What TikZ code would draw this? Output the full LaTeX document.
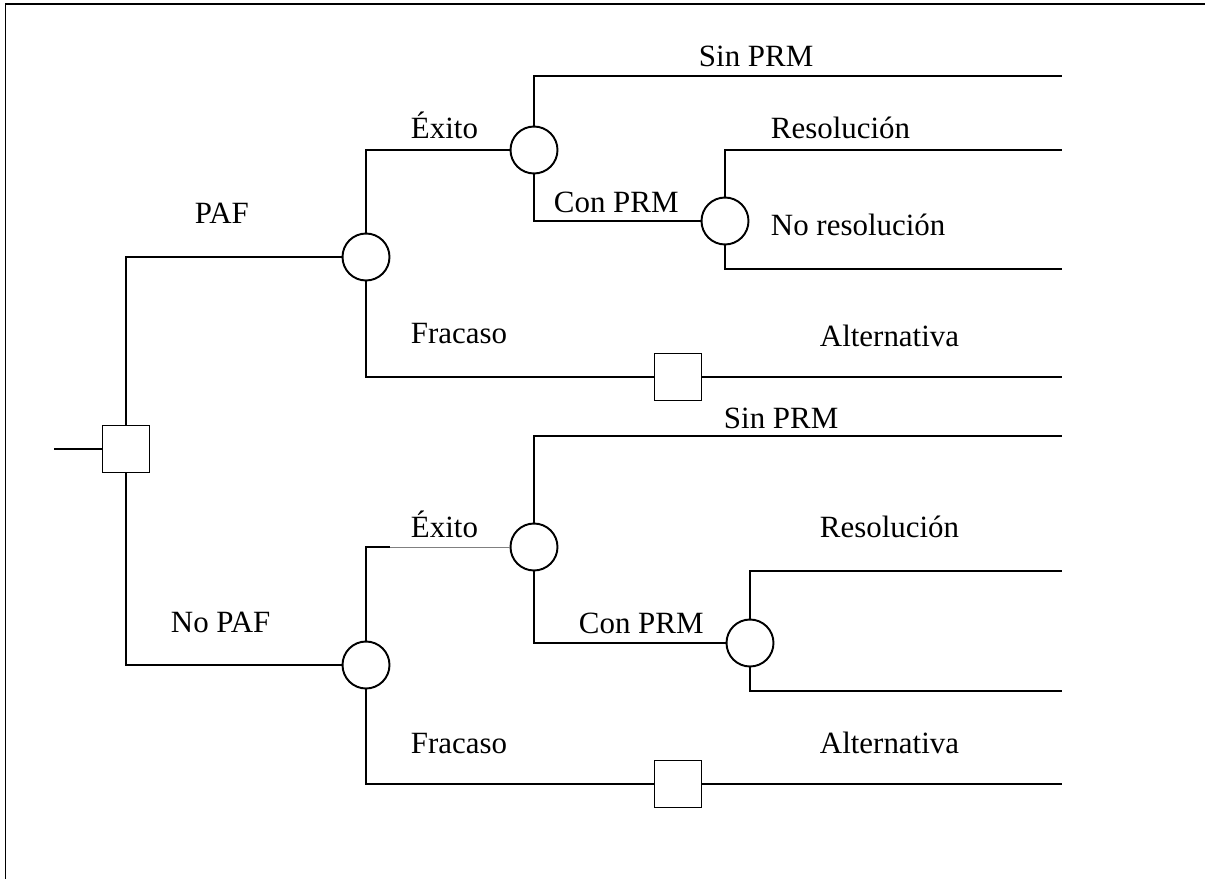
\documentclass[tikz,border=0pt]{standalone}
\usepackage{fontspec}
\setmainfont{Liberation Serif}
\begin{document}
\begin{tikzpicture}[x=0.02cm, y=-0.02cm, line width=1.1pt,
  chance/.style = {draw, circle, minimum size=0.94cm, inner sep=0pt},
  choice/.style = {draw, rectangle, minimum size=0.94cm, inner sep=0pt},
  lbl/.style = {anchor=base west, inner sep=0pt, font=\fontsize{17.6}{21}\selectfont}]
\useasboundingbox (0,0) rectangle (1205,879);
\draw (5.5,880) -- (5.5,4) -- (1206,4);

\node[choice] (1) at (126,449) {};
\node[chance] (2) at (366,257) {};
\node[chance] (3) at (534,150) {};
\node[chance] (4) at (725,221) {};
\node[choice] (5) at (678,377) {};
\node[chance] (6) at (366,665) {};
\node[chance] (7) at (534,547) {};
\node[chance] (8) at (750,643) {};
\node[choice] (9) at (678,784) {};

\coordinate (s) at (54,449);
\coordinate (a) at (1062,76);
\coordinate (b) at (1062,150);
\coordinate (c) at (1062,269);
\coordinate (d) at (1062,377);
\coordinate (e) at (1062,436);
\coordinate (f) at (1062,571);
\coordinate (g) at (1062,691);
\coordinate (h) at (1062,784);
\coordinate (k) at (390,547);

\draw (s) -- (1);
\draw (1.north) |- (2);
\draw (1.south) |- (6);
\draw (2.north) |- (3);
\draw (2.south) |- (5);
\draw (5) -- (d);
\draw (3.north) |- (a);
\draw (3.south) |- (4);
\draw (4.north) |- (b);
\draw (4.south) |- (c);
\draw (6.north) |- (k);
\draw[gray, line width=0.5pt] (k) -- (7);
\draw (6.south) |- (9);
\draw (9) -- (h);
\draw (7.north) |- (e);
\draw (7.south) |- (8);
\draw (8.north) |- (f);
\draw (8.south) |- (g);

\node[lbl] (t1)  at (698,67)  {Sin PRM};
\node[lbl] (t2)  at (410,138) {Éxito};
\node[lbl] (t3)  at (770,138) {Resolución};
\node[lbl] (t4)  at (553,212) {Con PRM};
\node[lbl] (t5)  at (194,223) {PAF};
\node[lbl] (t6)  at (770,235) {No resolución};
\node[lbl] (t7)  at (410,343) {Fracaso};
\node[lbl] (t8)  at (819,346) {Alternativa};
\node[lbl] (t9)  at (723,428) {Sin PRM};
\node[lbl] (t10) at (410,537) {Éxito};
\node[lbl] (t11) at (819,537) {Resolución};
\node[lbl] (t12) at (170,632) {No PAF};
\node[lbl] (t13) at (578,633) {Con PRM};
\node[lbl] (t14) at (410,753) {Fracaso};
\node[lbl] (t15) at (819,753) {Alternativa};
\end{tikzpicture}
\end{document}
